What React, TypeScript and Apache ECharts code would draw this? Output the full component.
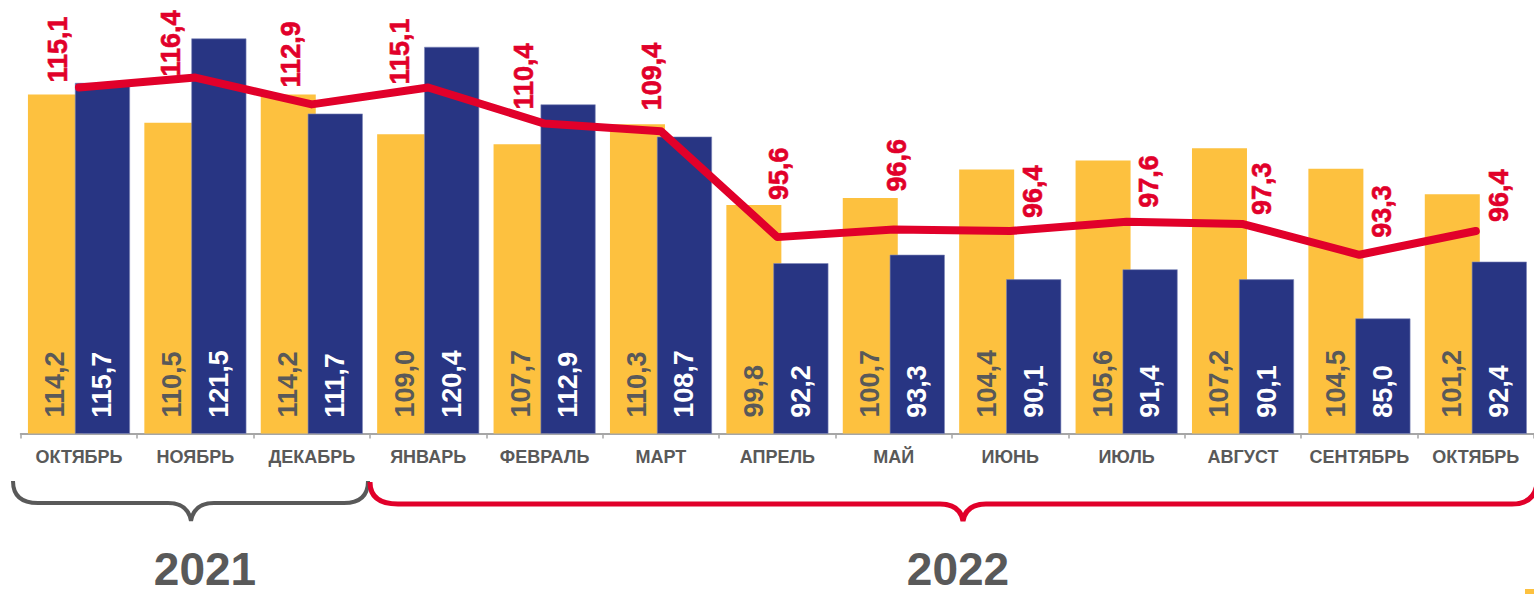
import React, { useEffect, useRef } from "react";
import * as echarts from "echarts";

const categories = ["ОКТЯБРЬ", "НОЯБРЬ", "ДЕКАБРЬ", "ЯНВАРЬ", "ФЕВРАЛЬ", "МАРТ", "АПРЕЛЬ", "МАЙ", "ИЮНЬ", "ИЮЛЬ", "АВГУСТ", "СЕНТЯБРЬ", "ОКТЯБРЬ"];
const yellowValues = [114.2, 110.5, 114.2, 109.0, 107.7, 110.3, 99.8, 100.7, 104.4, 105.6, 107.2, 104.5, 101.2];
const blueValues = [115.7, 121.5, 111.7, 120.4, 112.9, 108.7, 92.2, 93.3, 90.1, 91.4, 90.1, 85.0, 92.4];
const lineValues = [115.1, 116.4, 112.9, 115.1, 110.4, 109.4, 95.6, 96.6, 96.4, 97.6, 97.3, 93.3, 96.4];
const yearLabels = ["2021", "2022"];

// label placement style: [gap above point, horizontal shift]
const lineLabelShift = [
  [5, -21], [1, -24], [17, -21], [3, -28], [14, -21], [21, -9],
  [37, 2], [38, 3], [13, 23], [14, 22], [9, 19], [17, 23], [9, 23],
];

const FONT = '"Liberation Sans", Arial, sans-serif';
const YELLOW = "#FDC13F";
const BLUE = "#283583";
const RED = "#E1002A";
const GRAY = "#595959";

const braceGrayD = "M13,481 Q13,503 38,503 L168,503 Q188,503 191,521 Q194,503 214,503 L344,503 Q368,503 368,481";
const braceRedD = "M370,482 Q370,504 398,504 L940,504 Q960,504 963,521 Q966,504 986,504 L1512,504 Q1534,504 1537,484";
echarts.graphic.registerShape("braceGray", echarts.graphic.extendPath(braceGrayD, {}));
echarts.graphic.registerShape("braceRed", echarts.graphic.extendPath(braceRedD, {}));

const fmt = (v: number) => v.toFixed(1).replace(".", ",");

export default function App() {
  const ref = useRef<HTMLDivElement>(null);
  useEffect(() => {
    if (!ref.current) return;
    const chart = echarts.init(ref.current, null, { renderer: "svg" });
    const barLabel = (color: string) => ({
      show: true,
      position: "insideBottom",
      distance: 16,
      rotate: 90,
      align: "left",
      verticalAlign: "middle",
      color,
      fontFamily: FONT,
      fontWeight: "bold",
      fontSize: 27,
      formatter: (p: any) => fmt(p.value),
    });
    chart.setOption({
      animation: false,
      backgroundColor: "#ffffff",
      grid: { left: 20.75, top: 34.6, width: 1514.5, height: 398.9 },
      xAxis: {
        type: "category",
        data: categories,
        axisLine: { lineStyle: { color: "#A6A6A6", width: 2 } },
        axisTick: { show: true, length: 5, lineStyle: { color: "#A6A6A6", width: 1.5 } },
        axisLabel: {
          color: GRAY,
          fontFamily: FONT,
          fontWeight: "bold",
          fontSize: 18,
          margin: 14,
          interval: 0,
        },
      },
      yAxis: { type: "value", min: 70, max: 122, show: false, splitLine: { show: false } },
      series: [
        {
          type: "bar",
          data: yellowValues,
          barWidth: 55,
          barGap: "-14.5%",
          itemStyle: { color: YELLOW },
          label: barLabel(GRAY),
          z: 2,
        },
        {
          type: "bar",
          data: blueValues,
          barWidth: 55,
          itemStyle: { color: BLUE, borderColor: "#7E86B8", borderWidth: 0.6 },
          label: barLabel("#ffffff"),
          z: 3,
        },
        {
          type: "line",
          data: lineValues,
          symbol: "circle",
          symbolSize: 2,
          showSymbol: true,
          itemStyle: { color: RED },
          lineStyle: { color: RED, width: 8, cap: "round", join: "round" },
          label: {
            show: true,
            position: "top",
            distance: 0,
            rotate: 90,
            align: "left",
            verticalAlign: "middle",
            color: RED,
            fontFamily: FONT,
            fontWeight: 700,
            fontSize: 27,
            textBorderColor: RED,
            textBorderWidth: 0.6,
            formatter: (p: any) => fmt(p.value),
          },
          labelLayout: (p: any) => {
            const s = lineLabelShift[p.dataIndex];
            const cx = p.rect.x + p.rect.width / 2;
            const cy = p.rect.y + p.rect.height / 2;
            return { x: cx + s[1], y: cy - s[0], hideOverlap: false };
          },
          z: 5,
        },
      ],
      graphic: [
        { type: "braceGray", x: 0, y: 0, style: { fill: "none", stroke: GRAY, lineWidth: 4 } },
        { type: "braceRed", x: 0, y: 0, style: { fill: "none", stroke: RED, lineWidth: 5 } },
        {
          type: "text",
          x: 205,
          y: 569,
          style: { text: yearLabels[0], fill: GRAY, font: `bold 46px ${FONT}`, textAlign: "center", textVerticalAlign: "middle" },
        },
        {
          type: "text",
          x: 958,
          y: 569,
          style: { text: yearLabels[1], fill: GRAY, font: `bold 46px ${FONT}`, textAlign: "center", textVerticalAlign: "middle" },
        },
        { type: "rect", shape: { x: 1525, y: 589, width: 9, height: 5 }, style: { fill: YELLOW } },
      ],
    });
    return () => chart.dispose();
  }, []);
  return (
    <div
      ref={ref}
      style={{ position: "fixed", left: 0, top: 0, width: 1534, height: 594, background: "#fff" }}
    />
  );
}
